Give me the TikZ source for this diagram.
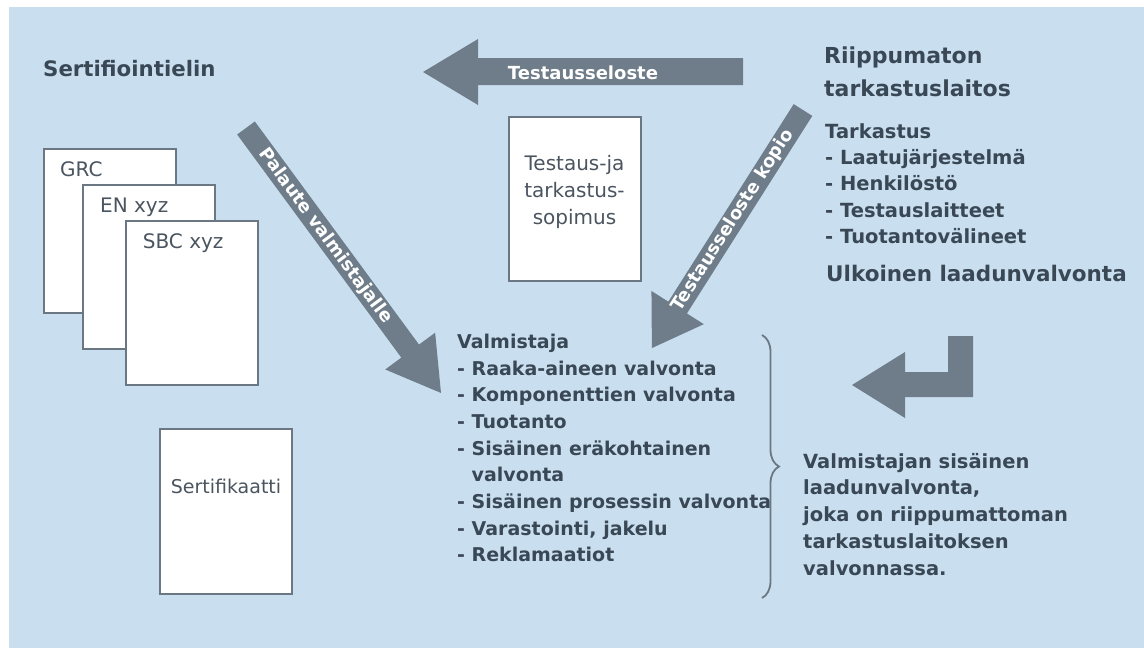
\documentclass[tikz,border=0pt]{standalone}
\usepackage{fontspec}
\setmainfont{DejaVu Sans}
\usetikzlibrary{decorations.pathreplacing}
\definecolor{bgblue}{RGB}{201,223,240}
\definecolor{arrowgray}{RGB}{110,125,137}
\definecolor{txt}{RGB}{58,72,86}
\definecolor{doctext}{RGB}{75,85,96}
\definecolor{border}{RGB}{107,119,130}
\begin{document}
\begin{tikzpicture}[x=1pt,y=-1pt,
  blockarrow/.style={fill=arrowgray, draw=none},
  docbox/.style={draw=border, line width=2pt, fill=white, inner sep=0pt, anchor=north west},
  doclabel/.style={text=doctext, inner sep=0pt, font=\fontsize{20}{26.6}\selectfont},
  heading/.style={text=txt, inner sep=0pt, anchor=base west, align=left, font=\bfseries\fontsize{21.5}{31}\selectfont},
  listtext/.style={text=txt, inner sep=0pt, anchor=base west, align=left, font=\bfseries\fontsize{19}{26.67}\selectfont},
  arrowtext/.style={text=white, inner sep=0pt, font=\bfseries\fontsize{18}{20}\selectfont},
  bracestyle/.style={draw=border, line width=1.8pt, decorate, decoration={brace, amplitude=17pt}}
]
\useasboundingbox (0,0) rectangle (1144,648);
\fill[white] (0,0) rectangle (1144,648);
\fill[bgblue] (9,7) rectangle (1144,648);

% documents
\node[docbox, minimum width=132pt, minimum height=164pt] (grc) at (43,148) {};
\node[doclabel, anchor=base west] (grct) at (60,176) {GRC};
\node[docbox, minimum width=132pt, minimum height=164pt] (en) at (82,184) {};
\node[doclabel, anchor=base west] (ent) at (100,212.7) {EN xyz};
\node[docbox, minimum width=132pt, minimum height=164pt] (sbc) at (125,220) {};
\node[doclabel, anchor=base west] (sbct) at (142.7,248.3) {SBC xyz};
\node[docbox, minimum width=132pt, minimum height=165pt] (cert) at (159,428) {};
\node[doclabel, anchor=base, font=\fontsize{19}{26}\selectfont] (certt) at (226,493.3) {Sertifikaatti};
\node[docbox, minimum width=132pt, minimum height=164pt] (sop) at (508,116) {};
% base anchor = baseline of last line
\node[doclabel, anchor=base, align=center] (sopt) at (574.5,224) {Testaus-ja\\tarkastus-\\sopimus};

% headings and lists (base anchor = baseline of last line)
\node[heading, font=\bfseries\fontsize{21.3}{26}\selectfont] (sert) at (43,76) {Sertifiointielin};
\node[heading, font=\bfseries\fontsize{22}{33}\selectfont] (lab) at (824,96.5) {Riippumaton\\tarkastuslaitos};
\node[listtext, font=\bfseries\fontsize{19.5}{26.3}\selectfont] (tark) at (825,243.5) {Tarkastus\\- Laatujärjestelmä\\- Henkilöstö\\- Testauslaitteet\\- Tuotantovälineet};
\node[heading] (ulk) at (826,281.7) {Ulkoinen laadunvalvonta};
\node[listtext] (valm) at (457,561.7) {Valmistaja\\- Raaka-aineen valvonta\\- Komponenttien valvonta\\- Tuotanto\\- Sisäinen eräkohtainen\\\phantom{- }valvonta\\- Sisäinen prosessin valvonta\\- Varastointi, jakelu\\- Reklamaatiot};
\node[listtext, font=\bfseries\fontsize{19.5}{26.67}\selectfont] (note) at (803,575) {Valmistajan sisäinen\\laadunvalvonta,\\joka on riippumattoman\\tarkastuslaitoksen\\valvonnassa.};

% brace
\coordinate (bt) at (762,335);
\coordinate (bb) at (762,598);
\draw[bracestyle] (bt) -- (bb);

% horizontal arrow
\fill[blockarrow] (743,58) -- (478,58) -- (478,39) -- (423,72) -- (478,105) -- (478,85) -- (743,85) -- cycle;
\node[arrowtext, anchor=base] (testt) at (583,79) {Testausseloste};

% Palaute arrow
\begin{scope}[shift={(246,128)}, rotate=-53.65]
\fill[blockarrow] (0,-11) -- (277,-11) -- (277,-31) -- (329,0) -- (277,31) -- (277,11) -- (0,11) -- cycle;
\node[arrowtext, rotate=-53.65] (palt) at (134,0) {Palaute valmistajalle};
\end{scope}

% kopio arrow
\begin{scope}[shift={(803,110)}, rotate=237.6]
\fill[blockarrow] (0,-11) -- (234,-11) -- (234,-31) -- (282,0) -- (234,31) -- (234,11) -- (0,11) -- cycle;
\node[arrowtext, rotate=57.6] (kopt) at (131,0) {Testausseloste kopio};
\end{scope}

% return arrow
\fill[blockarrow] (973,336) -- (973,397) -- (905,397) -- (905,418) -- (852,385) -- (905,352) -- (905,372) -- (948,372) -- (948,336) -- cycle;
\end{tikzpicture}
\end{document}
